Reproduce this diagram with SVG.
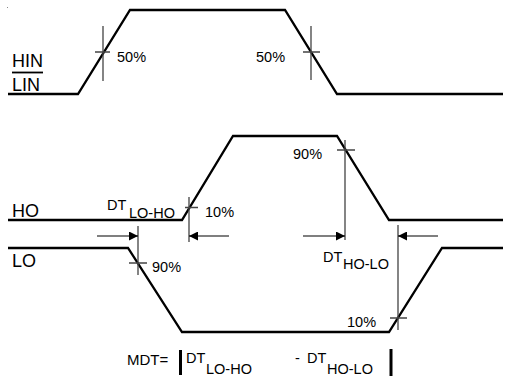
<svg xmlns="http://www.w3.org/2000/svg" width="507" height="377" viewBox="0 0 507 377">
<style>
  .wave{fill:none;stroke:#000;stroke-width:2.3;stroke-linejoin:miter}
  .mark{fill:none;stroke:#444;stroke-width:1.3}
  .arr{fill:none;stroke:#000;stroke-width:1.1}
  .lbl{font-family:"Liberation Sans",Arial,sans-serif;fill:#000}
  .big{font-size:18px}
  .pct{font-size:14.5px}
  .dt{font-size:14.5px}
  .bar{stroke:#000;stroke-width:3}
</style>
<defs>
  <marker id="ah" viewBox="0 0 10 10" refX="10" refY="5" markerWidth="10" markerHeight="9" markerUnits="userSpaceOnUse" orient="auto">
    <path d="M0,0 L10,5 L0,10 Z" fill="#000"/>
  </marker>
</defs>
<rect width="507" height="377" fill="#fff"/>
<rect x="7" y="7" width="1" height="1" fill="#888"/>

<g id="hin-lin">
  <path class="wave" d="M8,94 H78 L130,10 H285 L337,94 H503"/>
  <text class="lbl big" x="12" y="67">HIN</text>
  <line x1="12" y1="72.5" x2="43" y2="72.5" stroke="#000" stroke-width="1.8"/>
  <text class="lbl big" x="12" y="91">LIN</text>
  <path class="mark" d="M103,26 V81 M95,52 H110"/>
  <text class="lbl pct" x="117" y="62">50%</text>
  <path class="mark" d="M311,26 V80 M303,52 H320"/>
  <text class="lbl pct" x="256" y="62">50%</text>
</g>

<g id="ho">
  <path class="wave" d="M8,220 H182 L233,136 H337 L389,220 H503"/>
  <text class="lbl big" x="12" y="217">HO</text>
  <path class="mark" d="M189,197 V242 M185,207.5 H198"/>
  <text class="lbl pct" x="205" y="217">10%</text>
  <path class="mark" d="M345,140 V240 M337,150 H355"/>
  <text class="lbl pct" x="293" y="159">90%</text>
  <text class="lbl dt" x="107" y="210">DT</text>
  <text class="lbl dt" x="129" y="218">LO-HO</text>
</g>

<g id="lo">
  <path class="wave" d="M8,248 H128 L182,332 H389 L442,248 H503"/>
  <text class="lbl big" x="12" y="267">LO</text>
  <path class="mark" d="M138,226 V275 M129,263 H147"/>
  <text class="lbl pct" x="152" y="272">90%</text>
  <path class="mark" d="M398,225 V330 M390,318 H407"/>
  <text class="lbl pct" x="347" y="327">10%</text>
  <text class="lbl dt" x="323" y="262">DT</text>
  <text class="lbl dt" x="343" y="269">HO-LO</text>
</g>

<g id="connectors">
  <line class="arr" x1="97" y1="236" x2="138" y2="236" marker-end="url(#ah)"/>
  <line class="arr" x1="229" y1="236" x2="189" y2="236" marker-end="url(#ah)"/>
  <line class="arr" x1="303" y1="236" x2="345" y2="236" marker-end="url(#ah)"/>
  <line class="arr" x1="438" y1="236" x2="398" y2="236" marker-end="url(#ah)"/>
</g>

<g id="mdt">
  <text class="lbl" font-size="15" x="127" y="365">MDT=</text>
  <line class="bar" x1="180.5" y1="350" x2="180.5" y2="375"/>
  <text class="lbl dt" x="186" y="363">DT</text>
  <text class="lbl dt" x="206" y="374">LO-HO</text>
  <text class="lbl dt" x="295" y="363">-</text>
  <text class="lbl dt" x="307" y="363">DT</text>
  <text class="lbl dt" x="327" y="374">HO-LO</text>
  <line class="bar" x1="391" y1="349" x2="391" y2="376"/>
</g>
</svg>
